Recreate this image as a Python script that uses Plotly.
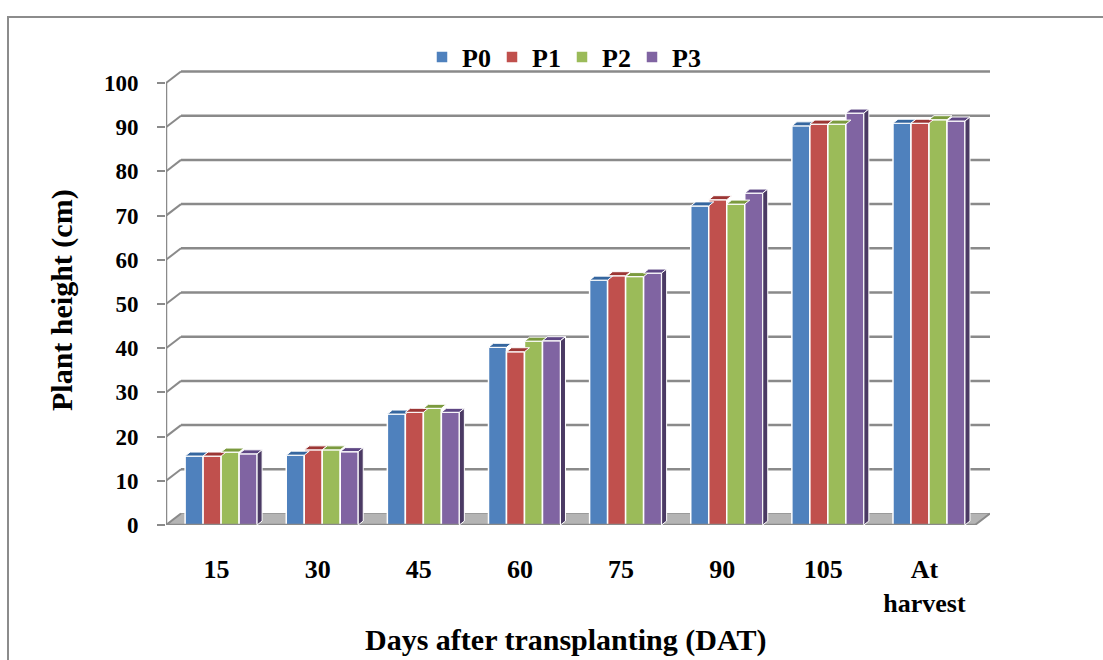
import plotly.graph_objects as go

# ---------------- data ----------------
categories = ["15", "30", "45", "60", "75", "90", "105", "At<br>harvest"]
series_names = ["P0", "P1", "P2", "P3"]
p0 = [15.6, 15.8, 25.1, 40.2, 55.4, 72.2, 90.3, 90.9]
p1 = [15.6, 17.0, 25.5, 39.2, 56.4, 73.6, 90.7, 90.9]
p2 = [16.5, 17.0, 26.4, 41.6, 56.2, 72.6, 90.7, 91.7]
p3 = [16.1, 16.6, 25.5, 41.7, 57.0, 75.1, 93.2, 91.4]
y_ticks = [0, 10, 20, 30, 40, 50, 60, 70, 80, 90, 100]

front_colors = ["#4F81BD", "#C0504D", "#9BBB59", "#8064A2"]
top_colors = ["#35669F", "#9C3634", "#7B9A3E", "#5E4784"]
side_color = "#4B3A64"

# ---------------- geometry (pixels of the 1103x660 page) ----------------
W, H = 1103, 660
L, R, T, B = 166, 990, 69, 525
PX_PER_UNIT = 4.42
YMAX = (B - T) / PX_PER_UNIT
n = len(categories)
PX_PER_CAT = (975 - L) / n
XMIN = -0.5
XMAX = n - 0.5 + (R - 975) / PX_PER_CAT

wall_dx = 15 / PX_PER_CAT          # depth of back wall
wall_dy = 11.5 / PX_PER_UNIT
bar_dx = 5 / PX_PER_CAT            # depth of the bars
bar_dy = 4 / PX_PER_UNIT
shift = 0.045                      # perspective shift of the bar groups
bargap = 0.288
bw = (1 - bargap) / len(series_names)

grid_color = "#8A8A8A"
font_family = "Liberation Serif"


def px_to_paper_x(px):
    return (px - L) / (R - L)


def px_to_paper_y(py):
    return (B - py) / (B - T)


fig = go.Figure()

xs = [i + shift for i in range(n)]
all_series = [p0, p1, p2, p3]
for name, vals, col in zip(series_names, all_series, front_colors):
    fig.add_trace(go.Bar(
        name=name, x=xs, y=vals,
        marker=dict(color=col, line=dict(color="white", width=1.5)),
    ))

shapes = []
# floor
shapes.append(dict(
    type="path", xref="x", yref="y", layer="below",
    path=f"M {XMIN},0 L {n - 0.5},0 L {n - 0.5 + wall_dx},{wall_dy} L {XMIN + wall_dx},{wall_dy} Z",
    fillcolor="#B4B4B4", line=dict(color="#9A9A9A", width=1),
))
# back wall gridlines + connectors
for v in y_ticks:
    if v > 0:
        shapes.append(dict(type="line", xref="x", yref="y", layer="below",
                           x0=XMIN + wall_dx, x1=XMAX, y0=v + wall_dy, y1=v + wall_dy,
                           line=dict(color=grid_color, width=2.5)))
    shapes.append(dict(type="line", xref="x", yref="y", layer="below",
                       x0=XMIN, x1=XMIN + wall_dx, y0=v, y1=v + wall_dy,
                       line=dict(color=grid_color, width=2)))
# front axis lines
shapes.append(dict(type="line", xref="x", yref="y", layer="below",
                   x0=XMIN, x1=XMIN, y0=0, y1=y_ticks[-1],
                   line=dict(color=grid_color, width=2.5)))
shapes.append(dict(type="line", xref="x", yref="y", layer="above",
                   x0=XMIN, x1=n - 0.5, y0=0, y1=0,
                   line=dict(color=grid_color, width=2.5)))
shapes.append(dict(type="line", xref="x", yref="y", layer="above",
                   x0=n - 0.5, x1=n - 0.5 + wall_dx, y0=0, y1=wall_dy,
                   line=dict(color=grid_color, width=2)))

# 3-D top faces and right side faces of the bars
for i in range(n):
    for k, vals in enumerate(all_series):
        xc = xs[i] + (k - (len(all_series) - 1) / 2) * bw
        x0, x1 = xc - bw / 2, xc + bw / 2
        v = vals[i]
        shapes.append(dict(
            type="path", xref="x", yref="y", layer="above",
            path=f"M {x0},{v} L {x1},{v} L {x1 + bar_dx},{v + bar_dy} L {x0 + bar_dx},{v + bar_dy} Z",
            fillcolor=top_colors[k], line=dict(color="white", width=1),
        ))
        if k == len(all_series) - 1:
            shapes.append(dict(
                type="path", xref="x", yref="y", layer="above",
                path=f"M {x1},0 L {x1},{v} L {x1 + bar_dx},{v + bar_dy} L {x1 + bar_dx},{bar_dy} Z",
                fillcolor=side_color, line=dict(color="white", width=1),
            ))

# chart border
shapes.append(dict(type="rect", xref="paper", yref="paper",
                   x0=px_to_paper_x(8), x1=px_to_paper_x(W + 10),
                   y0=px_to_paper_y(H + 10), y1=px_to_paper_y(17),
                   line=dict(color="#8C8C8C", width=2), fillcolor="rgba(0,0,0,0)"))

annotations = [
    dict(text="<b>Plant height (cm)</b>", xref="paper", yref="paper",
         x=px_to_paper_x(62), y=px_to_paper_y(300), textangle=-90,
         showarrow=False, font=dict(family=font_family, size=30, color="black"),
         xanchor="center", yanchor="middle"),
    dict(text="<b>Days after transplanting (DAT)</b>", xref="paper", yref="paper",
         x=px_to_paper_x(565), y=px_to_paper_y(640),
         showarrow=False, font=dict(family=font_family, size=30, color="black"),
         xanchor="center", yanchor="middle"),
]

fig.update_layout(
    width=W, height=H,
    margin=dict(l=L, r=W - R, t=T, b=H - B, pad=0),
    paper_bgcolor="white", plot_bgcolor="white",
    barmode="group", bargap=bargap, bargroupgap=0,
    shapes=shapes, annotations=annotations,
    showlegend=True,
    legend=dict(orientation="h", x=px_to_paper_x(422), xanchor="left",
                y=px_to_paper_y(57), yanchor="middle",
                font=dict(family=font_family, size=26, color="black", weight="bold"),
                bgcolor="rgba(0,0,0,0)", itemwidth=30, entrywidth=25),
    xaxis=dict(range=[XMIN, XMAX], tickvals=list(range(n)), ticktext=categories,
               showgrid=False, zeroline=False, showline=False, ticks="",
               tickfont=dict(family=font_family, size=26, color="black", weight="bold"),
               ticklabelstandoff=26),
    yaxis=dict(range=[0, YMAX], tickvals=y_ticks, showgrid=False, zeroline=False,
               showline=False, ticks="outside", ticklen=8, tickwidth=2,
               tickcolor=grid_color, ticklabelstandoff=14,
               tickfont=dict(family=font_family, size=23, color="black", weight="bold")),
)

fig.write_html("out.html")
